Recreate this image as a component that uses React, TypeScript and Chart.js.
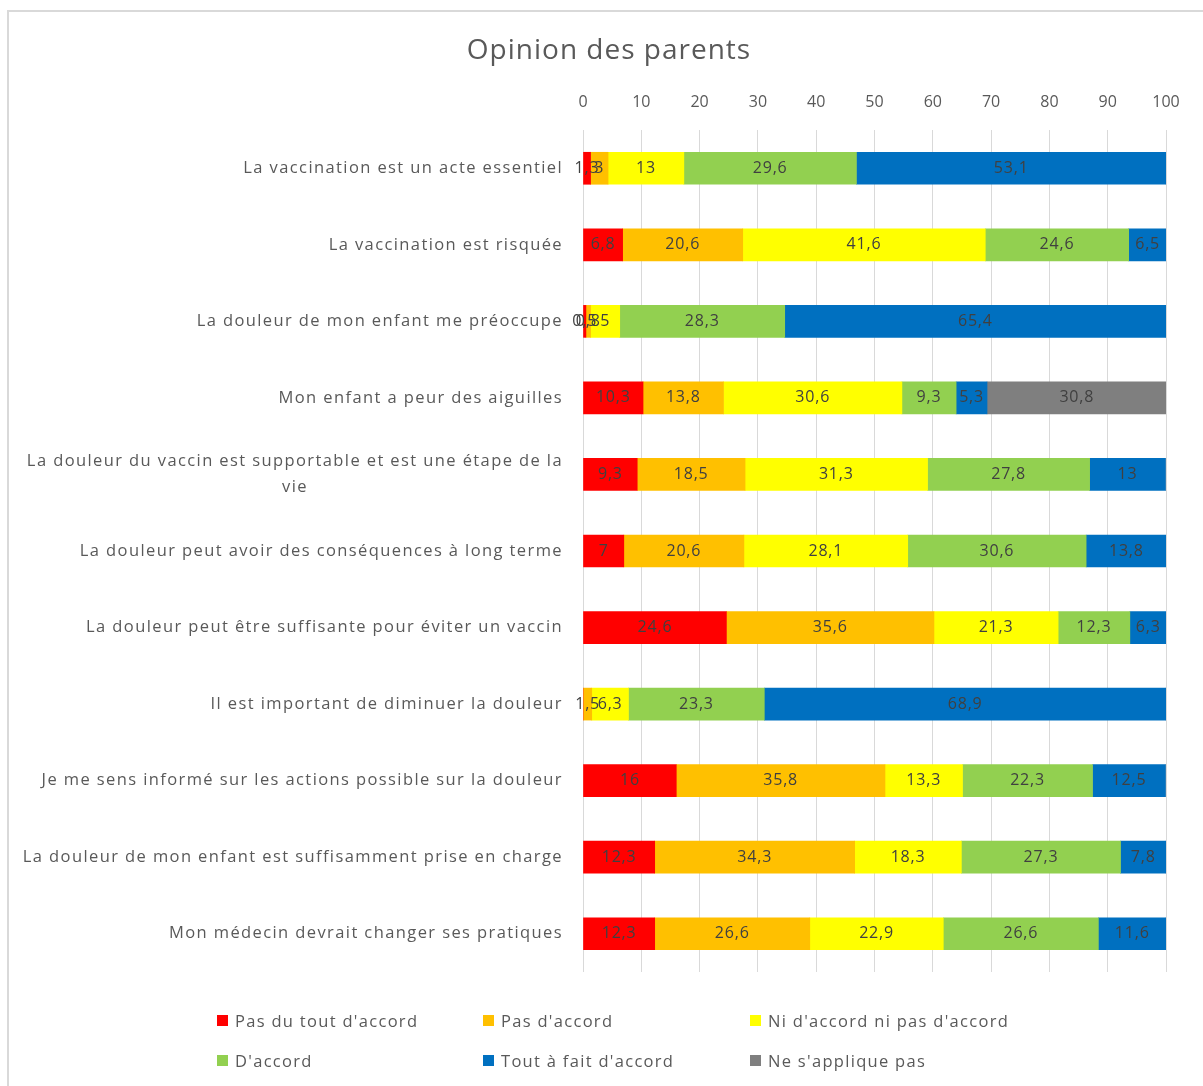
import React, { useEffect, useRef } from "react";
import { Chart, registerables } from "chart.js";

Chart.register(...registerables);

const TITLE = "Opinion des parents";

const categories: (string | string[])[] = [
  "La vaccination est un acte essentiel",
  "La vaccination est risquée",
  "La douleur de mon enfant me préoccupe",
  "Mon enfant a peur des aiguilles",
  ["La douleur du vaccin est supportable et est une étape de la", "vie"],
  "La douleur peut avoir des conséquences à long terme",
  "La douleur peut être suffisante pour éviter un vaccin",
  "Il est important de diminuer la douleur",
  "Je me sens informé sur les actions possible sur la douleur",
  "La douleur de mon enfant est suffisamment prise en charge",
  "Mon médecin devrait changer ses pratiques",
];

const seriesNames = [
  "Pas du tout d'accord",
  "Pas d'accord",
  "Ni d'accord ni pas d'accord",
  "D'accord",
  "Tout à fait d'accord",
  "Ne s'applique pas",
];

const seriesColors = ["#FF0000", "#FFC000", "#FFFF00", "#92D050", "#0070C0", "#7F7F7F"];

const pasDuTout = [1.3, 6.8, 0.5, 10.3, 9.3, 7, 24.6, 0, 16, 12.3, 12.3];
const pasDaccord = [3, 20.6, 0.8, 13.8, 18.5, 20.6, 35.6, 1.5, 35.8, 34.3, 26.6];
const niNi = [13, 41.6, 5, 30.6, 31.3, 28.1, 21.3, 6.3, 13.3, 18.3, 22.9];
const daccord = [29.6, 24.6, 28.3, 9.3, 27.8, 30.6, 12.3, 23.3, 22.3, 27.3, 26.6];
const toutAFait = [53.1, 6.5, 65.4, 5.3, 13, 13.8, 6.3, 68.9, 12.5, 7.8, 11.6];
const neSappliquePas = [0, 0, 0, 30.8, 0, 0, 0, 0, 0, 0, 0];

const seriesValues = [pasDuTout, pasDaccord, niNi, daccord, toutAFait, neSappliquePas];

const FONT = "'Open Sans', 'Noto Sans', sans-serif";
const TEXT_GRAY = "#595959";

const fmt = (v: number) => String(v).replace(".", ",");

const customPlugin = {
  id: "customText",
  afterDatasetsDraw(chart: any) {
    const ctx = chart.ctx;
    ctx.save();
    // data labels
    ctx.font = `16px ${FONT}`;
    (ctx as any).letterSpacing = "0.8px";
    ctx.fillStyle = "#404040";
    ctx.textAlign = "center";
    ctx.textBaseline = "middle";
    chart.data.datasets.forEach((ds: any, di: number) => {
      const meta = chart.getDatasetMeta(di);
      meta.data.forEach((bar: any, i: number) => {
        const v = ds.data[i];
        if (!v) return;
        const p = bar.getProps(["x", "base", "y"], true);
        ctx.fillText(fmt(v), (p.x + p.base) / 2, p.y);
      });
    });
    // category labels
    const yScale = chart.scales.y;
    ctx.fillStyle = TEXT_GRAY;
    ctx.font = `16.5px ${FONT}`;
    (ctx as any).letterSpacing = "1.4px";
    categories.forEach((c, i) => {
      const lines = Array.isArray(c) ? c : [c];
      const maxW = Math.max(...lines.map((l) => ctx.measureText(l).width));
      const cx = chart.chartArea.left - 20 - maxW / 2;
      const yc = yScale.getPixelForValue(i);
      const lh = 26;
      lines.forEach((l, j) => {
        ctx.fillText(l, cx, yc + (j - (lines.length - 1) / 2) * lh);
      });
    });
    // title
    ctx.font = `28px ${FONT}`;
    (ctx as any).letterSpacing = "1px";
    ctx.fillStyle = TEXT_GRAY;
    ctx.fillText(TITLE, 609, 51);
    ctx.restore();
  },
};

export default function App() {
  const ref = useRef<HTMLCanvasElement | null>(null);

  useEffect(() => {
    if (!ref.current) return;
    const chart = new Chart(ref.current, {
      type: "bar",
      data: {
        labels: categories.map((c) => (Array.isArray(c) ? c.join(" ") : c)),
        datasets: seriesNames.map((name, i) => ({
          label: name,
          data: seriesValues[i],
          backgroundColor: seriesColors[i],
          borderWidth: 0,
          barThickness: 32,
        })),
      },
      options: {
        indexAxis: "y",
        animation: false,
        responsive: false,
        layout: { padding: { left: 0, right: 37, top: 0, bottom: 114 } },
        scales: {
          x: {
            position: "top",
            stacked: true,
            min: 0,
            max: 100,
            ticks: {
              stepSize: 10,
              color: TEXT_GRAY,
              font: { family: FONT, size: 16 },
              padding: 18,
            },
            grid: { color: "#d9d9d9", drawTicks: false, lineWidth: 1 },
            border: { display: false },
            afterFit: (s: any) => {
              s.height = 130;
            },
          },
          y: {
            stacked: true,
            ticks: { display: false },
            grid: { display: false },
            border: { display: false },
            afterFit: (s: any) => {
              s.width = 583;
            },
          },
        },
        plugins: {
          legend: { display: false },
          title: { display: false },
          tooltip: { enabled: false },
        },
      },
      plugins: [customPlugin],
    } as any);
    return () => chart.destroy();
  }, []);

  const legendCols = [217, 483, 750];
  const legendRows = [1020, 1060];

  return (
    <div style={{ position: "fixed", left: 0, top: 0, width: 1203, height: 1086, background: "#fff", overflow: "hidden" }}>
      <div
        style={{
          position: "absolute",
          left: 7,
          top: 10,
          width: 1300,
          height: 1200,
          borderLeft: "2px solid #d9d9d9",
          borderTop: "2px solid #d9d9d9",
        }}
      />
      <canvas ref={ref} width={1203} height={1086} style={{ position: "absolute", left: 0, top: 0, width: 1203, height: 1086 }} />
      {seriesNames.map((name, i) => (
        <div
          key={name}
          style={{
            position: "absolute",
            left: legendCols[i % 3],
            top: legendRows[Math.floor(i / 3)] - 12,
            height: 24,
            display: "flex",
            alignItems: "center",
            fontFamily: FONT,
            fontSize: 16.5,
            letterSpacing: "1.3px",
            color: TEXT_GRAY,
            whiteSpace: "nowrap",
          }}
        >
          <span style={{ display: "inline-block", width: 11, height: 11, background: seriesColors[i], marginRight: 7 }} />
          {name}
        </div>
      ))}
    </div>
  );
}
